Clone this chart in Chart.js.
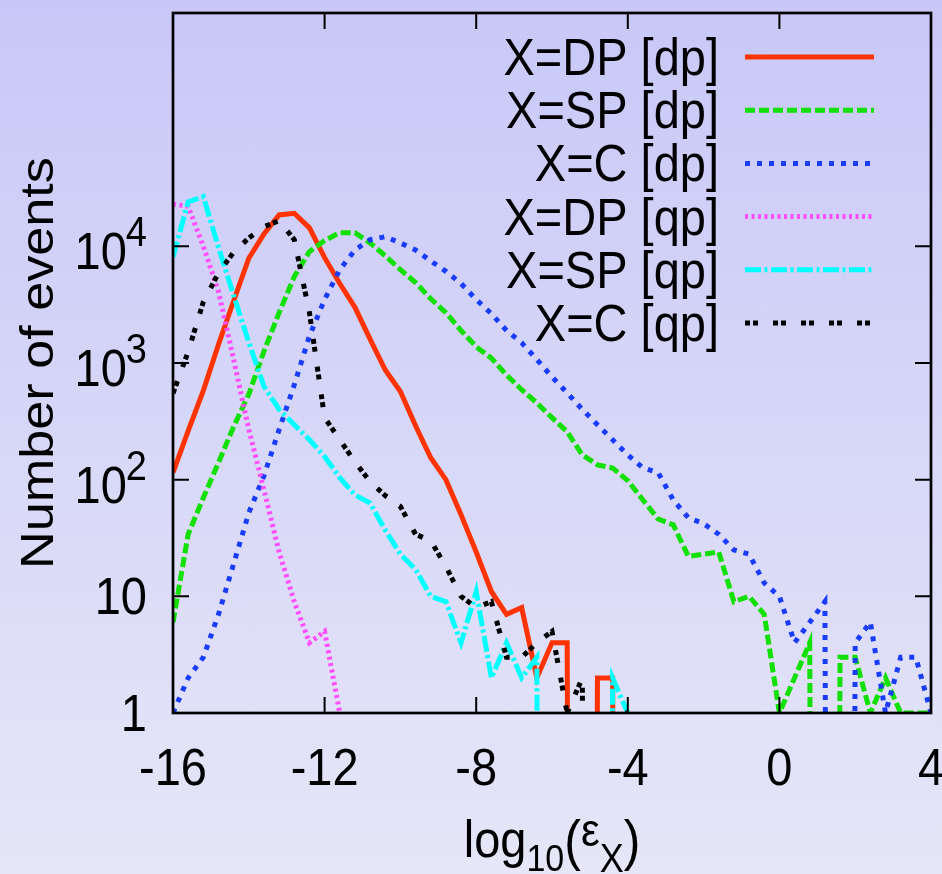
<!DOCTYPE html>
<html>
<head>
<meta charset="utf-8">
<script src="https://cdn.jsdelivr.net/npm/chart.js@4"></script>
<style>
  html, body { margin: 0; padding: 0; }
  body {
    width: 942px;
    height: 874px;
    overflow: hidden;
    background: linear-gradient(to bottom, #c8c8f8, #e6e6f8);
  }
  canvas { display: block; }
</style>
</head>
<body>
<canvas id="chart" width="942" height="874"></canvas>
<script>
// histogram bin centres, log10(eps_X)
const binCenters = [-16, -15.6, -15.2, -14.8, -14.4, -14, -13.6, -13.2, -12.8, -12.4,
  -12, -11.6, -11.2, -10.8, -10.4, -10, -9.6, -9.2, -8.8, -8.4,
  -8, -7.6, -7.2, -6.8, -6.4, -6, -5.6, -5.2, -4.8, -4.4,
  -4, -3.6, -3.2, -2.8, -2.4, -2, -1.6, -1.2, -0.8, -0.4,
  0, 0.4, 0.8, 1.2, 1.6, 2, 2.4, 2.8, 3.2, 3.6, 4];

// number of events per bin
const dpDP = [115, 262, 580, 1440, 3400, 7900, 12800, 18600, 19200, 14400,
  8000, 4800, 3000, 1600, 870, 570, 290, 154, 100, 50,
  24, 11, 7, 8, 2, 4, 4, 0, 2, 2,
  0, 0, 0, 0, 0, 0, 0, 0, 0, 0,
  0, 0, 0, 0, 0, 0, 0, 0, 0, 0, 0];
const dpSP = [6, 34, 70, 140, 285, 540, 1260, 2700, 5500, 9000,
  11200, 13100, 13100, 10700, 8300, 6300, 4900, 3550, 2700, 1900,
  1380, 1100, 790, 590, 455, 340, 257, 163, 134, 126,
  98, 67, 46, 41, 22, 23, 24, 9, 10, 7,
  1, 2, 4, 0, 3, 3, 1, 2, 1, 1, 1];
const dpC = [1, 2, 3, 7, 19, 52, 108, 268, 650, 1700,
  3500, 6300, 9300, 11400, 12100, 10700, 9300, 7500, 6100, 4800,
  3500, 2650, 1900, 1490, 1070, 760, 555, 400, 295, 220,
  163, 126, 115, 67, 47, 42, 34, 25, 23, 13,
  10, 4, 6, 9, 0, 4, 6, 1, 3, 3, 1];
const qpDP = [23000, 22000, 10000, 4100, 1070, 270, 82, 24, 9, 4,
  5, 1, 0, 0, 0, 0, 0, 0, 0, 0,
  0, 0, 0, 0, 0, 0, 0, 0, 0, 0,
  0, 0, 0, 0, 0, 0, 0, 0, 0, 0,
  0, 0, 0, 0, 0, 0, 0, 0, 0, 0, 0];
const qpSP = [8100, 24000, 26700, 9800, 3800, 1500, 630, 400, 295, 220,
  158, 104, 74, 63, 37, 23, 17, 10, 9, 4,
  11, 2, 4, 2, 3, 0, 0, 0, 0, 2,
  1, 0, 0, 0, 0, 0, 0, 0, 0, 0,
  0, 0, 0, 0, 0, 0, 0, 0, 0, 0, 0];
const qpC = [550, 1250, 3340, 5900, 8900, 11800, 14700, 16600, 11400, 2700,
  340, 220, 142, 96, 73, 59, 34, 30, 18, 10,
  8, 9, 3, 3, 4, 5, 1, 2, 0, 0,
  1, 1, 0, 0, 0, 0, 0, 0, 0, 0,
  0, 0, 0, 0, 0, 0, 0, 0, 0, 0, 0];

const seriesLabels = ['X=DP [dp]', 'X=SP [dp]', 'X=C [dp]', 'X=DP [qp]', 'X=SP [qp]', 'X=C [qp]'];

const xTicks = [-16, -12, -8, -4, 0, 4];
const yTicks = [1, 10, 100, 1000, 10000];
const yTickBase = ['1', '10', '10', '10', '10'];
const yTickExp = ['', '', '2', '3', '4'];

const FONT = '"Liberation Sans", Arial, Helvetica, sans-serif';
const SY = 1.11; // the original picture is a bit taller than wide

// empty bins: put them far below the axis so the line drops straight down
function toPoints(values) {
  return binCenters.map((x, i) => ({ x, y: values[i] === 0 ? 1e-30 : values[i] }));
}

function text(ctx, str, x, y, size, align) {
  ctx.save();
  ctx.font = size + 'px ' + FONT;
  ctx.textAlign = align || 'left';
  ctx.textBaseline = 'alphabetic';
  ctx.fillStyle = '#000';
  ctx.translate(x, y);
  ctx.scale(1, SY);
  ctx.fillText(str, 0, 0);
  ctx.restore();
}

function textWidth(ctx, str, size) {
  ctx.font = size + 'px ' + FONT;
  return ctx.measureText(str).width;
}

const gnuplotFrame = {
  id: 'gnuplotFrame',
  afterDatasetsDraw(chart) {
    const { ctx, chartArea: a, scales: { x, y } } = chart;
    ctx.save();
    ctx.setLineDash([]);
    ctx.strokeStyle = '#000';

    ctx.lineWidth = 2;
    ctx.beginPath();
    xTicks.forEach(v => {
      const px = x.getPixelForValue(v);
      ctx.moveTo(px, a.bottom); ctx.lineTo(px, a.bottom - 16);
      ctx.moveTo(px, a.top); ctx.lineTo(px, a.top + 16);
    });
    yTicks.forEach(v => {
      const py = y.getPixelForValue(v);
      ctx.moveTo(a.left, py); ctx.lineTo(a.left + 16, py);
      ctx.moveTo(a.right, py); ctx.lineTo(a.right - 16, py);
    });
    ctx.stroke();

    ctx.lineWidth = 2.7;
    ctx.strokeRect(a.left, a.top, a.right - a.left, a.bottom - a.top);

    // x tick labels
    xTicks.forEach(v => {
      text(ctx, String(v), x.getPixelForValue(v), a.bottom + 72, 47, 'center');
    });

    // y tick labels, powers of ten with superscripts
    const labelRight = a.left - 26;
    yTicks.forEach((v, i) => {
      const py = y.getPixelForValue(v);
      if (yTickExp[i] === '') {
        text(ctx, yTickBase[i], labelRight, py + 18, 47, 'right');
      } else {
        const w = textWidth(ctx, yTickExp[i], 38);
        text(ctx, yTickExp[i], labelRight, py, 38, 'right');
        text(ctx, yTickBase[i], labelRight - w + 1, py + 23, 47, 'right');
      }
    });

    // y axis title
    ctx.save();
    ctx.font = '47px ' + FONT;
    ctx.fillStyle = '#000';
    ctx.textAlign = 'center';
    ctx.textBaseline = 'alphabetic';
    ctx.translate(53, (a.top + a.bottom) / 2);
    ctx.scale(1, SY);
    ctx.rotate(-Math.PI / 2);
    ctx.fillText('Number of events', 0, 0);
    ctx.restore();

    // x axis title: log_10(eps_X)
    const parts = [
      { s: 'log', size: 47, dy: 0 },
      { s: '10', size: 34, dy: 14 },
      { s: '(', size: 50, dy: 2 },
      { s: 'ε', size: 42, dy: -11 },
      { s: 'X', size: 36, dy: 15 },
      { s: ')', size: 50, dy: 2 }
    ];
    const total = parts.reduce((t, p) => t + textWidth(ctx, p.s, p.size), 0);
    let cx = (a.left + a.right) / 2 - total / 2;
    const base = a.bottom + 144;
    parts.forEach(p => {
      text(ctx, p.s, cx, base + p.dy, p.size, 'left');
      cx += textWidth(ctx, p.s, p.size);
    });

    // key, gnuplot style: right aligned text, sample to the right
    chart.data.datasets.forEach((ds, i) => {
      const cy = a.top + 44 + i * 53.2;
      text(ctx, ds.label, a.left + 546, cy + 18, 47, 'right');
      ctx.beginPath();
      ctx.setLineDash(ds.borderDash || []);
      ctx.lineWidth = ds.borderWidth;
      ctx.strokeStyle = ds.borderColor;
      ctx.lineCap = 'butt';
      ctx.moveTo(a.left + 572, cy);
      ctx.lineTo(a.left + 701, cy);
      ctx.stroke();
    });
    ctx.restore();
  }
};

const styles = [
  { color: '#ff3300', width: 5, dash: [] },
  { color: '#11e000', width: 5, dash: [10, 4] },
  { color: '#1a3cff', width: 5, dash: [5, 7] },
  { color: '#ff4dff', width: 5, dash: [3, 3.5] },
  { color: '#00ffff', width: 5, dash: [16, 3.5, 3, 3.5] },
  { color: '#000000', width: 5, dash: [5, 3, 5, 15] }
];
const allSeries = [dpDP, dpSP, dpC, qpDP, qpSP, qpC];

const datasets = allSeries.map((vals, i) => ({
  label: seriesLabels[i],
  data: toPoints(vals),
  borderColor: styles[i].color,
  borderWidth: styles[i].width,
  borderDash: styles[i].dash,
  pointRadius: 0,
  fill: false,
  tension: 0,
  order: allSeries.length - i
}));

new Chart(document.getElementById('chart'), {
  type: 'line',
  data: { datasets },
  options: {
    responsive: false,
    animation: false,
    devicePixelRatio: 1,
    events: [],
    layout: { padding: { left: 173, right: 11, top: 13, bottom: 161 } },
    plugins: { legend: { display: false }, tooltip: { enabled: false } },
    scales: {
      x: { type: 'linear', min: -16, max: 4, display: false },
      y: { type: 'logarithmic', min: 1, max: 1e6, display: false }
    }
  },
  plugins: [gnuplotFrame]
});
</script>
</body>
</html>
